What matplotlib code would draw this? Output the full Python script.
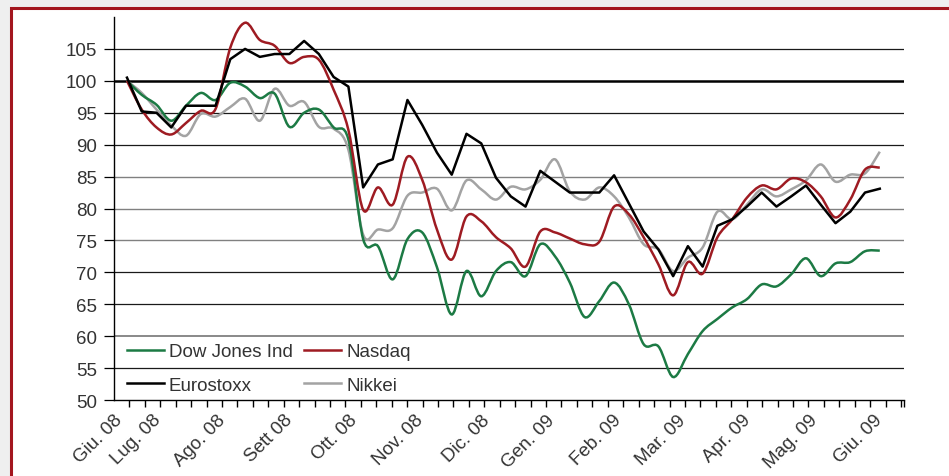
import numpy as np
import matplotlib
matplotlib.use("Agg")
import matplotlib.pyplot as plt
from matplotlib.path import Path
from matplotlib.patches import PathPatch, Rectangle
from matplotlib.lines import Line2D

plt.rcParams['font.family'] = ['Liberation Sans', 'DejaVu Sans']

# weekly values, Giu. 08 -> Giu. 09 (base 100)
dow_jones = [100, 97.8, 96.25, 93.75, 96.1, 98.1, 97.0, 99.7, 99.1, 97.3, 98.0, 92.8,
             95.0, 95.5, 92.7, 90.8, 75.2, 74.1, 68.9, 75.2, 76.25, 70.8, 63.4, 70.2,
             66.25, 70.2, 71.6, 69.4, 74.4, 72.5, 68.4, 63.0, 65.5, 68.4, 65.0, 58.75,
             58.4, 53.6, 57.2, 60.8, 62.7, 64.5, 65.8, 68.1, 67.8, 69.7, 72.2, 69.4,
             71.4, 71.6, 73.3, 73.4]
nasdaq = [100, 95.5, 92.7, 91.6, 93.4, 95.3, 95.6, 105.2, 109.1, 106.4, 105.5, 102.8,
          103.75, 103.3, 98.6, 92.3, 79.8, 83.3, 80.6, 88.1, 84.5, 76.7, 72.0, 78.75,
          78.0, 75.5, 73.75, 70.9, 76.4, 76.25, 75.3, 74.4, 74.8, 80.3, 79.1, 75.5,
          71.25, 66.4, 71.6, 69.8, 75.5, 78.3, 81.7, 83.6, 83.0, 84.7, 84.1, 81.9,
          78.6, 81.4, 86.1, 86.4]
eurostoxx = [100.5, 95.2, 95.0, 92.7, 96.1, 96.1, 96.1, 103.4, 105.0, 103.75, 104.2, 104.2,
             106.25, 104.2, 100.6, 99.1, 83.3, 86.9, 87.7, 97.0, 93.1, 88.75, 85.3, 91.7,
             90.2, 84.8, 81.9, 80.3, 85.9, 84.2, 82.5, 82.5, 82.5, 85.2, 80.8, 76.4,
             73.6, 69.4, 74.1, 70.9, 77.3, 78.3, 80.3, 82.5, 80.3, 81.9, 83.6, 80.6,
             77.7, 79.5, 82.5, 83.1]
nikkei = [100, 98.1, 95.5, 93.0, 91.4, 94.8, 94.4, 95.9, 97.2, 93.75, 98.75, 96.1,
          96.7, 92.8, 92.5, 89.2, 75.9, 76.7, 76.9, 82.0, 82.5, 83.1, 79.7, 84.4,
          83.0, 81.4, 83.4, 83.0, 84.5, 87.7, 82.7, 81.4, 83.3, 81.9, 78.6, 74.4,
          73.6, 70.2, 72.3, 73.9, 79.5, 78.3, 80.6, 83.0, 81.9, 83.0, 84.4, 86.9,
          84.2, 85.3, 85.5, 88.9]

month_labels = ['Giu. 08', 'Lug. 08', 'Ago. 08', 'Sett 08', 'Ott. 08', 'Nov. 08', 'Dic. 08',
                'Gen. 09', 'Feb. 09', 'Mar. 09', 'Apr. 09', 'Mag. 09', 'Giu. 09']
month_pos = [-0.88, 1.69, 6.1, 10.6, 15.0, 19.5, 24.0, 28.4, 32.9, 37.3, 41.7, 46.2, 50.6]

weeks = np.arange(len(eurostoxx))


def smooth_path(x, y):
    """catmull-rom -> bezier, like excel smoothed lines"""
    pts = np.column_stack([x, y]).astype(float)
    p = np.vstack([pts[0], pts, pts[-1]])
    verts = [tuple(pts[0])]
    codes = [Path.MOVETO]
    for i in range(1, len(p) - 2):
        c1 = p[i] + (p[i + 1] - p[i - 1]) / 6.0
        c2 = p[i + 1] - (p[i + 2] - p[i]) / 6.0
        verts += [tuple(c1), tuple(c2), tuple(p[i + 1])]
        codes += [Path.CURVE4] * 3
    return Path(verts, codes)


fig = plt.figure(figsize=(9.49, 4.77), dpi=100, facecolor='#efefef')
fig.patches.append(Rectangle((11 / 949, -0.1), 1.2, (477 - 9) / 477 + 0.1, transform=fig.transFigure,
                             facecolor='white', edgecolor='#a3161e', linewidth=2.2, zorder=-5))

ax = fig.add_axes([114 / 949, 1 - 401 / 477, 790 / 949, 383 / 477])
ax.set_facecolor('none')

txt = '#333333'
ax.set_ylim(50, 110)
ax.set_xlim(-0.88, 52.64)
ax.set_yticks(np.arange(50, 106, 5))
for v in np.arange(55, 106, 5):
    if v == 100:
        ax.axhline(v, color='black', lw=1.8, zorder=1)
    elif v in (60, 75, 80, 85):
        ax.axhline(v, color='#808080', lw=1.3 if v == 60 else 1.0, zorder=1)
    else:
        ax.axhline(v, color='#1a1a1a', lw=0.9, zorder=1)

for s in ['top', 'right']:
    ax.spines[s].set_visible(False)
ax.spines['left'].set_linewidth(1.0)
ax.spines['bottom'].set_linewidth(1.0)

# x: week ticks (marks only), month labels
ax.set_xticks(np.append(np.arange(-0.88, 52.6, 1.0454), 52.64), minor=True)
ax.set_xticks(month_pos)
ax.set_xticklabels(month_labels, rotation=45, ha='right', va='top', rotation_mode='anchor')
ax.tick_params(axis='x', which='major', length=0, pad=8, labelsize=13.5, labelcolor=txt)
ax.tick_params(axis='x', which='minor', length=5, width=1.0, direction='out')
ax.tick_params(axis='y', length=7, width=0.9, pad=5, labelsize=13.5, labelcolor=txt)

green = '#1c7a44'
red = '#9e1b22'
gray = '#a3a3a3'

ax.add_patch(PathPatch(smooth_path(weeks, nikkei), fill=False, edgecolor=gray, lw=1.8, zorder=3))
ax.add_patch(PathPatch(smooth_path(weeks, dow_jones), fill=False, edgecolor=green, lw=1.8, zorder=3))
ax.add_patch(PathPatch(smooth_path(weeks, nasdaq), fill=False, edgecolor=red, lw=1.8, zorder=4))
ax.plot(weeks, eurostoxx, color='black', lw=1.8, zorder=5)

# column-major fill: rows read Dow Jones / Nasdaq, Eurostoxx / Nikkei
handles = [Line2D([], [], color=green, lw=1.8), Line2D([], [], color='black', lw=1.8),
           Line2D([], [], color=red, lw=1.8), Line2D([], [], color=gray, lw=1.8)]
ax.legend(handles, ['Dow Jones Ind', 'Eurostoxx', 'Nasdaq', 'Nikkei'], ncol=2,
          loc='upper left', bbox_to_anchor=(0.016, 0.148), frameon=False, fontsize=13.5,
          handlelength=2.0, handletextpad=0.25, columnspacing=0.6, labelspacing=0.85,
          borderpad=0, borderaxespad=0, labelcolor=txt)

fig.savefig('out.png', dpi=100, facecolor=fig.get_facecolor())
